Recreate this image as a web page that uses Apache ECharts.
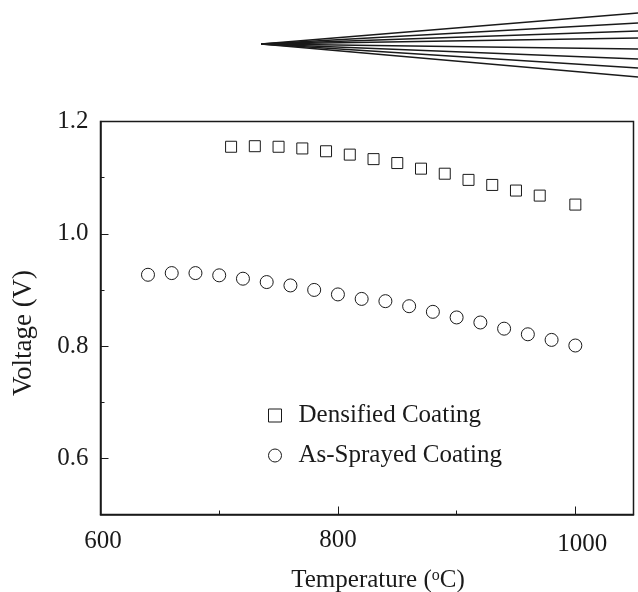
<!DOCTYPE html>
<html><head><meta charset="utf-8">
<style>html,body{margin:0;padding:0;background:#fff}#c{width:638px;height:592px}</style>
<script src="https://cdn.jsdelivr.net/npm/echarts@6/dist/echarts.min.js"></script>
</head><body><div id="c"></div>
<script>
const densifiedX = [710,730,750,770,790,810,830,850,870,890,910,930,950,970,1000];
const densifiedY = [1.155,1.156,1.155,1.152,1.147,1.141,1.133,1.126,1.116,1.107,1.096,1.087,1.077,1.068,1.052];
const sprayedX = [640,660,680,700,720,740,760,780,800,820,840,860,880,900,920,940,960,980,1000];
const sprayedY = [0.927,0.930,0.930,0.926,0.920,0.914,0.908,0.900,0.892,0.884,0.880,0.871,0.861,0.851,0.842,0.831,0.821,0.811,0.801];
const yMajor = [0.6,0.8,1.0,1.2];
const yMinor = [0.7,0.9,1.1];
const fanApex = 44;
const fanEnds = [13,23,31,38,49,59,68,77];
const names = ['Densified Coating','As-Sprayed Coating'];

const F = '"Liberation Serif","Times New Roman",serif', INK = '#1a1a1a';
const chart = echarts.init(document.getElementById('c'), null, {renderer:'canvas'});
const zip = (a,b) => a.map((v,i)=>[v,b[i]]);
const marker = {color:'#fff',borderColor:INK,borderWidth:1,opacity:1};
const hidden = {show:false};
chart.setOption({
  animation:false, backgroundColor:'#fff',
  grid:[
    {left:100.5,top:121.5,width:533,height:393,show:true,borderColor:INK,borderWidth:1.5,backgroundColor:'transparent',outerBoundsMode:'none',containLabel:false},
    {left:261,top:0,right:0,height:90,show:false,outerBoundsMode:'none'}
  ],
  legend:{
    data:names, orient:'vertical', left:263, top:398, itemGap:15, itemWidth:13, itemHeight:13,
    itemStyle:{borderWidth:1},
    textStyle:{fontFamily:F,fontSize:25,color:INK,padding:[8,0,0,12]}
  },
  xAxis:[
    {type:'value',gridIndex:0,min:600,max:1049,interval:200,splitLine:hidden,
     axisLine:{show:true,onZero:false,lineStyle:{color:INK,width:1.5}},
     axisTick:{inside:true,length:8,lineStyle:{color:INK}},
     minorTick:{show:true,splitNumber:2,length:4,lineStyle:{color:INK}},
     axisLabel:{fontFamily:F,fontSize:25,color:INK,margin:13,showMaxLabel:false,
       formatter:v=>v===1000?'{far|1000}':v===600?'{near|600}':v,
       rich:{far:{fontFamily:F,fontSize:25,color:INK,padding:[4,0,0,14]},near:{fontFamily:F,fontSize:25,color:INK,padding:[1,0,0,5]}}},
     name:'Temperature ({s|o}C)',nameLocation:'middle',nameGap:53,
     nameTextStyle:{fontFamily:F,fontSize:25,color:INK,padding:[0,0,0,22],rich:{s:{fontFamily:F,fontSize:16,color:INK,verticalAlign:'top',lineHeight:16,padding:[0,0,12,0]}}}
    },
    {type:'value',gridIndex:1,min:0,max:1,show:false}
  ],
  yAxis:[
    {type:'value',gridIndex:0,min:0.5,max:1.2,splitLine:hidden,
     axisLine:{show:true,onZero:false,lineStyle:{color:INK,width:1.5}},
     axisTick:{inside:true,length:8,customValues:yMajor,lineStyle:{color:INK}},
     axisLabel:{customValues:yMajor,fontFamily:F,fontSize:25,color:INK,margin:12,formatter:v=>v.toFixed(1)},
     name:'Voltage (V)',nameLocation:'middle',nameGap:63,nameRotate:90,
     nameTextStyle:{fontFamily:F,fontSize:27,color:INK,padding:[0,30,0,0]}
    },
    {type:'value',gridIndex:0,min:0.5,max:1.2,position:'left',splitLine:hidden,
     axisLine:hidden,axisLabel:hidden,
     axisTick:{show:true,inside:true,length:4,customValues:yMinor,lineStyle:{color:INK}}},
    {type:'value',gridIndex:1,min:0,max:90,inverse:true,show:false}
  ],
  series:[
    {name:names[0],type:'scatter',xAxisIndex:0,yAxisIndex:0,symbol:'rect',symbolSize:11,itemStyle:marker,data:zip(densifiedX,densifiedY)},
    {name:names[1],type:'scatter',xAxisIndex:0,yAxisIndex:0,symbol:'circle',symbolSize:13,itemStyle:marker,data:zip(sprayedX,sprayedY)},
    ...fanEnds.map((e,i)=>({name:'fan'+i,type:'line',xAxisIndex:1,yAxisIndex:2,showSymbol:false,silent:true,
      lineStyle:{color:INK,width:1.5},data:[[0,fanApex],[1,e]]}))
  ]
});
</script></body></html>
